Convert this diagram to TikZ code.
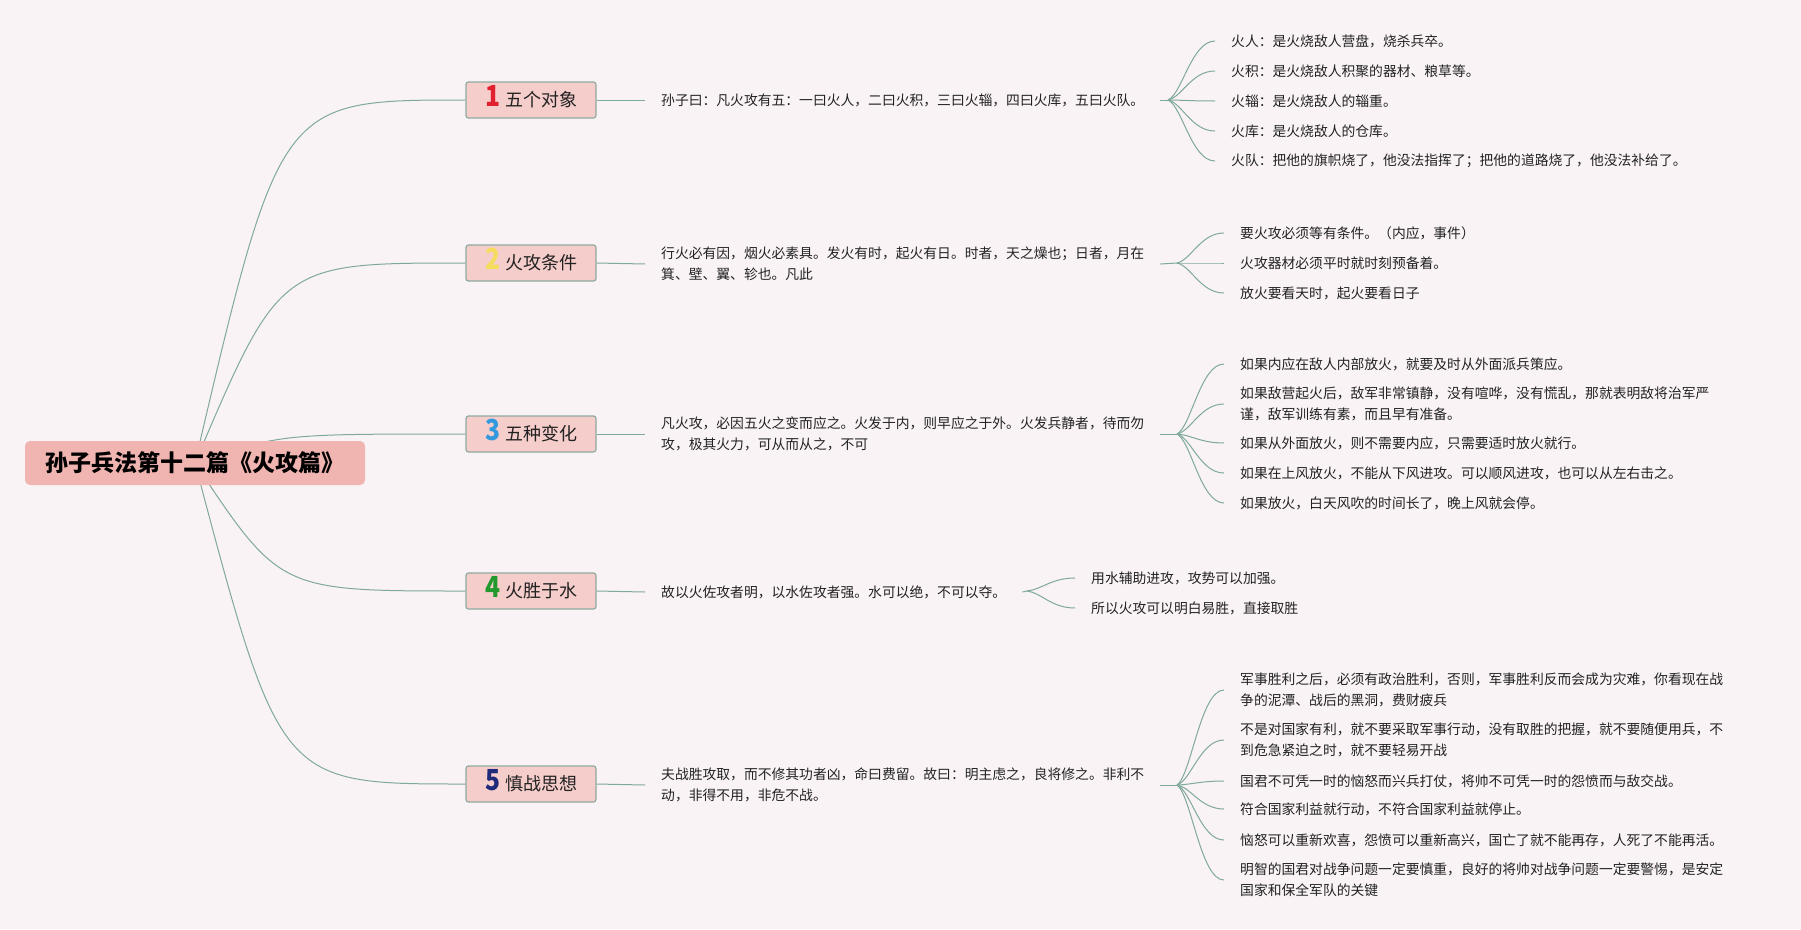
\documentclass[tikz,border=0pt]{standalone}
\usepackage{fontspec}
\usepackage{graphicx}
\setmainfont{Noto Sans CJK SC}
\usetikzlibrary{calc}
\definecolor{bg}{HTML}{F9F3F5}
\definecolor{rootc}{HTML}{F0B4B1}
\definecolor{nodec}{HTML}{F5CDCA}
\definecolor{bordc}{HTML}{8FAAA0}
\definecolor{lnc}{HTML}{7FA99C}
\definecolor{txtc}{HTML}{222222}
\definecolor{cA}{HTML}{E0202E}
\definecolor{cB}{HTML}{F5DC5A}
\definecolor{cC}{HTML}{3399DD}
\definecolor{cD}{HTML}{22992E}
\definecolor{cE}{HTML}{1F2A7A}
\newcommand\dig[2]{\smash{\scalebox{0.85}[1]{\fontsize{29}{29}\selectfont\bfseries\color{#1}#2}}\hspace{5pt}}
\newcommand\fanline[2]{\draw[conn] let \p1=(#1), \p2=(#2.west) in (#1) .. controls ({\x1+0.3*(\x2-\x1)},{\y1+0.1*(\y2-\y1)}) and ({\x1+0.5*(\x2-\x1)},\y2) .. (#2.west);}
\tikzset{
  conn/.style={draw=lnc, line width=1pt},
  rootbox/.style={fill=rootc, rounded corners=5pt, minimum width=340pt, minimum height=44pt, inner sep=0pt, font=\fontsize{23}{23}\selectfont\bfseries, text=black},
  branch/.style={fill=nodec, draw=bordc, line width=1.2pt, rounded corners=2.5pt, minimum width=130pt, minimum height=36pt, inner sep=0pt, font=\fontsize{18}{18}\selectfont, text=txtc},
  txt/.style={anchor=west, align=left, inner xsep=16pt, inner ysep=2pt, font=\fontsize{13.8}{21}\selectfont, text=txtc},
}
\begin{document}
\begin{tikzpicture}[x=1pt,y=-1pt]
\fill[bg] (0,0) rectangle (1801,929);
\useasboundingbox (0,0) rectangle (1801,929);

% branch nodes
\node[branch] (b1) at (531,100) {\dig{cA}{1}五个对象};
\node[branch] (b2) at (531,263) {\dig{cB}{2}火攻条件};
\node[branch] (b3) at (531,434) {\dig{cC}{3}五种变化};
\node[branch] (b4) at (531,591) {\dig{cD}{4}火胜于水};
\node[branch] (b5) at (531,784) {\dig{cE}{5}慎战思想};

% root connectors
\coordinate (rc) at (195,463);
\foreach \b in {b1,b2,b3,b4,b5}{
  \draw[conn] (rc) .. controls ($(rc |- \b.west)+(85,0)$) .. (\b.west);
}
\node[rootbox] (root) at (rc) {孙子兵法第十二篇《火攻篇》};

% text nodes
\node[txt] (t1) at (645,100) {孙子曰：凡火攻有五：一曰火人，二曰火积，三曰火辎，四曰火库，五曰火队。};
\node[txt] (t2) at (645,264) {行火必有因，烟火必素具。发火有时，起火有日。时者，天之燥也；日者，月在\\箕、壁、翼、轸也。凡此};
\node[txt] (t3) at (645,434) {凡火攻，必因五火之变而应之。火发于内，则早应之于外。火发兵静者，待而勿\\攻，极其火力，可从而从之，不可};
\node[txt] (t4) at (645,592) {故以火佐攻者明，以水佐攻者强。水可以绝，不可以夺。};
\node[txt] (t5) at (645,785) {夫战胜攻取，而不修其功者凶，命曰费留。故曰：明主虑之，良将修之。非利不\\动，非得不用，非危不战。};
\foreach \i in {1,...,5}{ \draw[conn] (b\i.east) -- (t\i.west); }

% fan origins
\coordinate (f1) at (1168,100);
\coordinate (f2) at (1177,263);
\coordinate (f3) at (1177,434);
\coordinate (f4) at (1027,591);
\coordinate (f5) at (1177,785);
\foreach \i in {1,...,5}{ \draw[conn] (t\i.east) -- (f\i); }

% leaves of 1
\node[txt] (l11) at (1215,41) {火人：是火烧敌人营盘，烧杀兵卒。};
\node[txt] (l12) at (1215,71) {火积：是火烧敌人积聚的器材、粮草等。};
\node[txt] (l13) at (1215,101) {火辎：是火烧敌人的辎重。};
\node[txt] (l14) at (1215,131) {火库：是火烧敌人的仓库。};
\node[txt] (l15) at (1215,161) {火队：把他的旗帜烧了，他没法指挥了；把他的道路烧了，他没法补给了。};
\foreach \j in {1,...,5}{ \fanline{f1}{l1\j} }

% leaves of 2
\node[txt] (l21) at (1224,233) {要火攻必须等有条件。（内应，事件）};
\node[txt] (l22) at (1224,263) {火攻器材必须平时就时刻预备着。};
\node[txt] (l23) at (1224,293) {放火要看天时，起火要看日子};
\foreach \j in {1,...,3}{ \fanline{f2}{l2\j} }

% leaves of 3
\node[txt] (l31) at (1224,364) {如果内应在敌人内部放火，就要及时从外面派兵策应。};
\node[txt] (l32) at (1224,404) {如果敌营起火后，敌军非常镇静，没有喧哗，没有慌乱，那就表明敌将治军严\\谨，敌军训练有素，而且早有准备。};
\node[txt] (l33) at (1224,443) {如果从外面放火，则不需要内应，只需要适时放火就行。};
\node[txt] (l34) at (1224,473) {如果在上风放火，不能从下风进攻。可以顺风进攻，也可以从左右击之。};
\node[txt] (l35) at (1224,503) {如果放火，白天风吹的时间长了，晚上风就会停。};
\foreach \j in {1,...,5}{ \fanline{f3}{l3\j} }

% leaves of 4
\node[txt] (l41) at (1075,578) {用水辅助进攻，攻势可以加强。};
\node[txt] (l42) at (1075,608) {所以火攻可以明白易胜，直接取胜};
\foreach \j in {1,2}{ \fanline{f4}{l4\j} }

% leaves of 5
\node[txt] (l51) at (1224,690) {军事胜利之后，必须有政治胜利，否则，军事胜利反而会成为灾难，你看现在战\\争的泥潭、战后的黑洞，费财疲兵};
\node[txt] (l52) at (1224,740) {不是对国家有利，就不要采取军事行动，没有取胜的把握，就不要随便用兵，不\\到危急紧迫之时，就不要轻易开战};
\node[txt] (l53) at (1224,781) {国君不可凭一时的恼怒而兴兵打仗，将帅不可凭一时的怨愤而与敌交战。};
\node[txt] (l54) at (1224,809) {符合国家利益就行动，不符合国家利益就停止。};
\node[txt] (l55) at (1224,840) {恼怒可以重新欢喜，怨愤可以重新高兴，国亡了就不能再存，人死了不能再活。};
\node[txt] (l56) at (1224,880) {明智的国君对战争问题一定要慎重，良好的将帅对战争问题一定要警惕，是安定\\国家和保全军队的关键};
\foreach \j in {1,...,6}{ \fanline{f5}{l5\j} }
\end{tikzpicture}
\end{document}
